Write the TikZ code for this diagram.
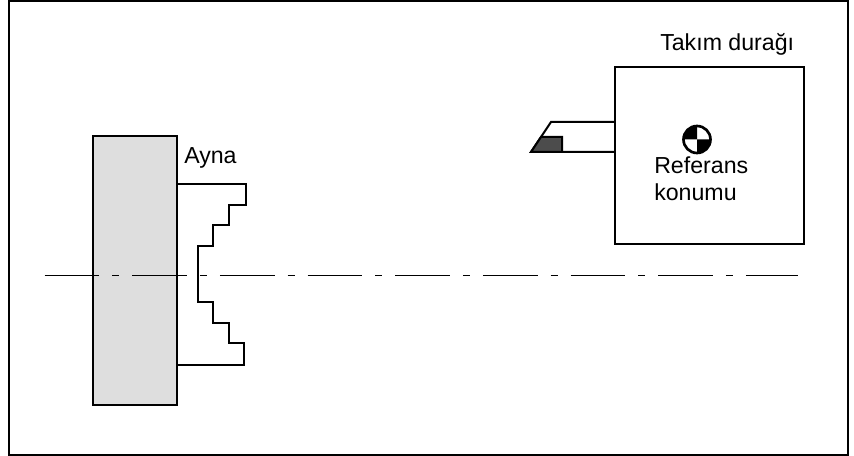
\documentclass[tikz,border=0pt]{standalone}
\usepackage{fontspec}
\setmainfont{Liberation Sans}
\definecolor{bodygray}{gray}{0.87}
\definecolor{insertgray}{gray}{0.3}
\tikzset{
  x=0.75pt,y=-0.75pt,
  outline/.style={draw=black,line width=1.5pt,line join=miter},
  symbolring/.style={draw=black,line width=2pt},
  axisline/.style={draw=black,line width=0.75pt,dash pattern=on 41pt off 9.75pt on 5.25pt off 9.75pt},
  lbl/.style={inner sep=0pt,font=\fontsize{17.3bp}{20bp}\selectfont,text=black}
}
\begin{document}
\begin{tikzpicture}
\useasboundingbox (0,0) rectangle (854,456);
\draw[draw=black,line width=1.4pt] (9,1.2) rectangle (848,454.8);
\draw[outline,fill=bodygray] (92.5,136) rectangle (177,405);
\draw[outline] (177,184.5) -- (246,184.5) -- (246,205.5) -- (228.5,205.5) -- (228.5,225.5) -- (212.5,225.5) -- (212.5,246) -- (197.5,246) -- (197.5,302.5) -- (213,302.5) -- (213,323) -- (228.5,323) -- (228.5,343) -- (244,343) -- (244,364.5) -- (177,364.5);
\draw[outline] (615,67.5) rectangle (804,244);
\draw[outline] (615,122) -- (551,122) -- (531,152) -- (615,152);
\draw[outline,fill=insertgray] (531,152) -- (541,137) -- (562,137) -- (562,152) -- cycle;
\coordinate (axisstart) at (44.5,276);
\coordinate (axisend) at (798,276);
\draw[axisline] (axisstart) -- (axisend);
\fill[white] (697,139.5) circle (14);
\fill[black] (697,139.5) -- (711,139.5) arc[start angle=0,end angle=90,radius=14] -- cycle;
\fill[black] (697,139.5) -- (683,139.5) arc[start angle=180,end angle=270,radius=14] -- cycle;
\draw[symbolring] (697,139.5) circle (13.5);
\node[lbl,anchor=base west] (turret) at (660,50.5) {Takım durağı};
\node[lbl,anchor=base west] (chuck) at (184,163.5) {Ayna};
\node[lbl,anchor=base west] (ref1) at (654,173.5) {Referans};
\node[lbl,anchor=base west] (ref2) at (654,201) {konumu};
\end{tikzpicture}
\end{document}
